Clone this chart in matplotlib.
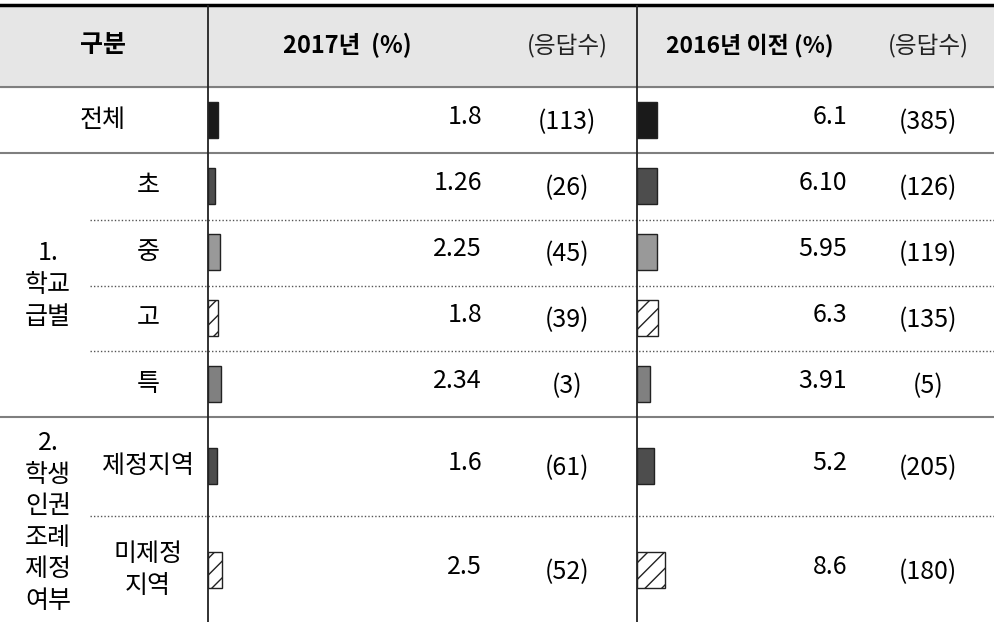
import matplotlib.pyplot as plt
from matplotlib.lines import Line2D

plt.rcParams['font.family'] = ['Noto Sans CJK KR', 'DejaVu Sans']
plt.rcParams['hatch.linewidth'] = 1.0
plt.rcParams['hatch.color'] = '#333333'

# ---- datos ----
etiquetas = ['전체', '초', '중', '고', '특', '제정지역', '미제정\n지역']
pct_2017 = [1.8, 1.26, 2.25, 1.8, 2.34, 1.6, 2.5]
txt_2017 = ['1.8', '1.26', '2.25', '1.8', '2.34', '1.6', '2.5']
n_2017 = [113, 26, 45, 39, 3, 61, 52]
pct_2016 = [6.1, 6.10, 5.95, 6.3, 3.91, 5.2, 8.6]
txt_2016 = ['6.1', '6.10', '5.95', '6.3', '3.91', '5.2', '8.6']
n_2016 = [385, 126, 119, 135, 5, 205, 180]
grupos = ['1.\n학교\n급별', '2.\n학생\n인권\n조례\n제정\n여부']

# estilos de barra por fila
colores = ['#1a1a1a', '#4d4d4d', '#999999', 'white', '#808080', '#4d4d4d', 'white']
tramas = [None, None, None, '//', None, None, '//']

# ---- layout en pixeles ----
W, H = 994, 622
filas_y = [120, 186, 252, 318, 384, 466, 570]
x_linea1, x_linea2 = 208, 637
fs = 18

fig = plt.figure(figsize=(W / 100, H / 100), dpi=100)
ax = fig.add_axes([0, 0, 1, 1])
ax.set_xlim(0, W)
ax.set_ylim(H, 0)
ax.axis('off')

# cabecera
ax.axhspan(6, 87, color='#e6e6e6', zorder=0)
ax.add_line(Line2D([0, W], [5, 5], color='black', lw=2.5))
for yy in [87, 153, 417]:
    ax.add_line(Line2D([0, W], [yy, yy], color='#7f7f7f', lw=1.5))
for yy in [220, 286, 351, 516]:
    ax.add_line(Line2D([90, W], [yy, yy], color='#555555', lw=1, ls=(0, (1, 1.5))))
for xx in [x_linea1, x_linea2]:
    ax.add_line(Line2D([xx, xx], [6, H], color='#222222', lw=1.3, zorder=5))

ax.text(103, 45, '구분', ha='center', va='center', fontsize=fs, fontweight='bold')
ax.text(347, 45, '2017년  (%)', ha='center', va='center', fontsize=fs - 1, fontweight='bold')
ax.text(567, 45, '(응답수)', ha='center', va='center', fontsize=fs - 1, color='#222222')
ax.text(750, 45, '2016년 이전 (%)', ha='center', va='center', fontsize=fs - 1.5,
        fontweight='bold')
ax.text(928, 45, '(응답수)', ha='center', va='center', fontsize=fs - 1, color='#222222')

# etiquetas de filas
ax.text(103, filas_y[0], etiquetas[0], ha='center', va='center', fontsize=fs)
for i in range(1, len(etiquetas)):
    ax.text(148, filas_y[i], etiquetas[i], ha='center', va='center', fontsize=fs,
            linespacing=1.3)
ax.text(48, 285, grupos[0], ha='center', va='center', fontsize=fs, linespacing=1.28)
ax.text(48, 522, grupos[1], ha='center', va='center', fontsize=fs, linespacing=1.28)

# barras: dos ejes con escala en % (cada columna con su propia escala)
for x0, x1, vals, px_por_pct in [(x_linea1, x_linea2, pct_2017, 5.5),
                                 (x_linea2, W, pct_2016, 3.3)]:
    bx = fig.add_axes([x0 / W, 0, (x1 - x0) / W, 1])
    bx.set_xlim(0, (x1 - x0) / px_por_pct)
    bx.set_ylim(H, 0)
    bx.axis('off')
    bx.patch.set_alpha(0)
    barras = bx.barh(filas_y, vals, height=36, color=colores,
                     edgecolor='#222222', linewidth=1)
    for b, t in zip(barras, tramas):
        if t:
            b.set_hatch(t)

# numeros
for i, y in enumerate(filas_y):
    ax.text(482, y - 3, txt_2017[i], ha='right', va='center', fontsize=fs)
    ax.text(567, y + 2, f'({n_2017[i]})', ha='center', va='center', fontsize=fs)
    ax.text(847, y - 3, txt_2016[i], ha='right', va='center', fontsize=fs)
    ax.text(928, y + 2, f'({n_2016[i]})', ha='center', va='center', fontsize=fs)

fig.savefig('out.png', dpi=100)
